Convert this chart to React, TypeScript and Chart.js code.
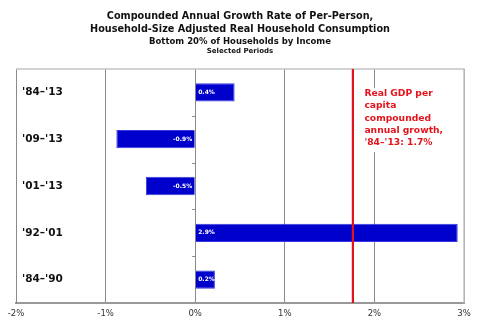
import React, { useEffect, useRef } from "react";
import { Chart, registerables } from "chart.js";

Chart.register(...registerables);

const categories = ["'84–'13", "'09–'13", "'01–'13", "'92–'01", "'84–'90"];
const growth = [0.44, -0.88, -0.55, 2.93, 0.22];
const valueLabels = ["0.4%", "-0.9%", "-0.5%", "2.9%", "0.2%"];
const xMin = -2;
const xMax = 3;
const gdpGrowth = 1.76;
const gdpNote = ["Real GDP per", "capita", "compounded", "annual growth,", "'84–'13: 1.7%"];
const titleLines = [
  "Compounded Annual Growth Rate of Per-Person,",
  "Household-Size Adjusted Real Household Consumption",
];
const subtitle = "Bottom 20% of Households by Income";
const subsubtitle = "Selected Periods";

const FONT = "'DejaVu Sans', Verdana, sans-serif";

const decorPlugin = {
  id: "decor",
  beforeDatasetsDraw(chart: any) {
    const { ctx, chartArea: a, scales } = chart;
    ctx.save();
    ctx.strokeStyle = "#c4c4c4";
    ctx.lineWidth = 1.5;
    ctx.beginPath();
    ctx.moveTo(a.left, a.top);
    ctx.lineTo(a.right, a.top);
    ctx.lineTo(a.right, a.bottom);
    ctx.stroke();
    const x0 = scales.x.getPixelForValue(0);
    ctx.strokeStyle = "#888";
    ctx.lineWidth = 1;
    const n = categories.length;
    for (let i = 1; i < n; i++) {
      const y = a.top + ((a.bottom - a.top) * i) / n;
      ctx.beginPath();
      ctx.moveTo(x0 - 3, Math.round(y) + 0.5);
      ctx.lineTo(x0, Math.round(y) + 0.5);
      ctx.stroke();
    }
    ctx.restore();
  },
  afterDatasetsDraw(chart: any) {
    const { ctx, chartArea: a, scales } = chart;
    ctx.save();
    const meta = chart.getDatasetMeta(0);
    const x0 = scales.x.getPixelForValue(0);
    ctx.fillStyle = "#ffffff";
    ctx.font = `bold 6px ${FONT}`;
    ctx.textBaseline = "middle";
    meta.data.forEach((bar: any, i: number) => {
      if (growth[i] >= 0) {
        ctx.textAlign = "left";
        ctx.fillText(valueLabels[i], x0 + 3, bar.y);
      } else {
        ctx.textAlign = "right";
        ctx.fillText(valueLabels[i], x0 - 3, bar.y);
      }
    });
    const xg = scales.x.getPixelForValue(gdpGrowth);
    ctx.strokeStyle = "#e3131b";
    ctx.lineWidth = 2.2;
    ctx.beginPath();
    ctx.moveTo(xg, a.top);
    ctx.lineTo(xg, a.bottom);
    ctx.stroke();
    ctx.fillStyle = "#ffffff";
    ctx.fillRect(xg + 8, a.top + 19, 82, 64);
    ctx.fillStyle = "#e3131b";
    ctx.font = `bold 9.2px ${FONT}`;
    ctx.textAlign = "left";
    ctx.textBaseline = "middle";
    gdpNote.forEach((t, i) => {
      ctx.fillText(t, xg + 11.5, a.top + 25 + i * 12.1);
    });
    ctx.restore();
  },
  afterDraw(chart: any) {
    const { ctx, width } = chart;
    ctx.save();
    ctx.fillStyle = "#111";
    ctx.textAlign = "center";
    ctx.textBaseline = "middle";
    ctx.font = `bold 9.7px ${FONT}`;
    ctx.fillText(titleLines[0], width / 2, 16);
    ctx.fillText(titleLines[1], width / 2, 29);
    ctx.font = `bold 8.5px ${FONT}`;
    ctx.fillText(subtitle, width / 2, 41.5);
    ctx.font = `bold 7px ${FONT}`;
    ctx.fillText(subsubtitle, width / 2, 51.5);
    ctx.restore();
  },
};

export default function App() {
  const ref = useRef<HTMLCanvasElement | null>(null);
  useEffect(() => {
    if (!ref.current) return;
    const chart = new Chart(ref.current, {
      type: "bar",
      data: {
        labels: categories,
        datasets: [
          {
            data: growth,
            backgroundColor: "#0000cc",
            borderColor: "#3a3ae0",
            borderWidth: 1,
            barPercentage: 0.39,
            categoryPercentage: 1,
          },
        ],
      },
      options: {
        indexAxis: "y",
        animation: false,
        responsive: true,
        maintainAspectRatio: false,
        layout: { padding: { left: 16, right: 16, top: 69, bottom: 0 } },
        plugins: {
          legend: { display: false },
          tooltip: { enabled: false },
          title: { display: false },
        },
        scales: {
          x: {
            type: "linear",
            min: xMin,
            max: xMax,
            ticks: {
              stepSize: 1,
              padding: 6,
              color: "#333",
              font: { family: FONT, size: 8.5 },
              callback: (v: any) => `${v}%`,
            },
            grid: { color: "#8a8a8a", lineWidth: 1, drawTicks: false },
            border: { color: "#999", width: 2 },
            afterFit: (s: any) => {
              s.height = 24;
            },
          },
          y: {
            type: "category",
            ticks: {
              mirror: true,
              padding: 6,
              color: "#111",
              font: { family: FONT, size: 10.5, weight: "bold" },
            },
            grid: { display: false, drawTicks: false },
            border: { color: "#8a8a8a", width: 1 },
            afterFit: (s: any) => {
              s.width = 0;
            },
          },
        },
      },
      plugins: [decorPlugin],
    });
    return () => chart.destroy();
  }, []);
  return (
    <div style={{ position: "fixed", left: 0, top: 0, width: 480, height: 327, background: "#fff" }}>
      <canvas ref={ref} />
    </div>
  );
}
